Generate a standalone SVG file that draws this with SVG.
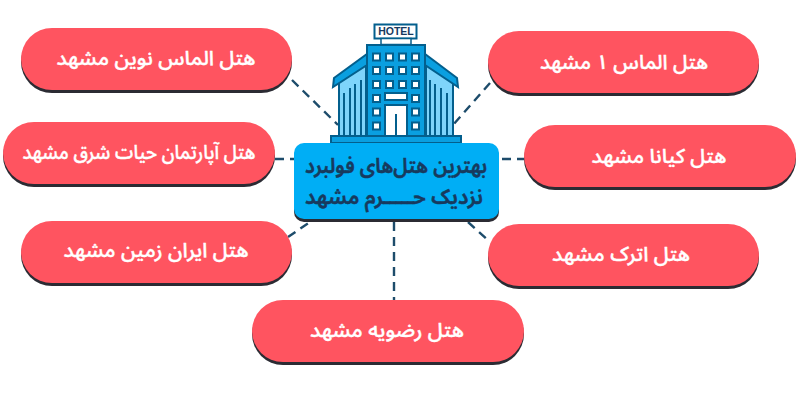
<svg xmlns="http://www.w3.org/2000/svg" width="800" height="400" viewBox="0 0 800 400">
<style>
.sh{fill:#2b2b33}
.p{fill:#ff5460}
.t{font-family:"Noto Sans Arabic","Noto Sans","DejaVu Sans",sans-serif;font-weight:500;fill:#fff;stroke:#fff;stroke-width:.4;text-anchor:middle;direction:rtl;font-size:20px}
.c{fill:none;stroke:#1d4c6b;stroke-width:2.4;stroke-dasharray:9 6}
.e{stroke:#035f8d;stroke-width:2;fill:#0a9fe0}
.l{stroke:#035f8d;stroke-width:2;fill:#7ed4fb}
.w{fill:#fff;stroke:#035f8d;stroke-width:2}
.m{font-family:"Noto Sans Arabic","Noto Sans","DejaVu Sans",sans-serif;font-weight:600;fill:#173a5e;stroke:#173a5e;stroke-width:.5;text-anchor:middle;direction:rtl;font-size:21px}
</style>
<rect width="800" height="400" fill="#fff"/>
<g id="connectors">
<path class="c" d="M292 80L338 125"/>
<path class="c" d="M490 83L453 125"/>
<path class="c" d="M275 159H294"/>
<path class="c" d="M502 159H524"/>
<path class="c" d="M288 237L310 222"/>
<path class="c" d="M468 222L490 242"/>
<path class="c" d="M394 222V300"/>
</g>
<g id="hotel-icon">
<rect x="374.500" y="24.500" width="42" height="14" fill="#fff" stroke="#035f8d" stroke-width="2"/>
<text x="396" y="35" font-family="Liberation Sans,sans-serif" font-weight="700" font-size="10.500" fill="#173a5e" text-anchor="middle">HOTEL</text>
<rect x="381" y="38.500" width="30" height="6" fill="#fff" stroke="#035f8d" stroke-width="1.500"/>
<path class="l" d="M339 82L366 60V137H339Z"/>
<path class="l" d="M453 82L426 60V137H453Z"/>
<path class="e" d="M333 87L334 78L367 54V65Z"/>
<path class="e" d="M458 87L457 78L425 54V65Z"/>
<path d="M344 136V93M350 136V88M355 136V84M361 136V80M430 136V80M435 136V84M441 136V88M447 136V93" stroke="#035f8d" stroke-width="2" fill="none"/>
<rect class="e" x="367" y="45" width="58" height="92"/>
<g class="w">
<rect x="373" y="53.500" width="7" height="7"/><rect x="386" y="53.500" width="7" height="7"/><rect x="399" y="53.500" width="7" height="7"/><rect x="412" y="53.500" width="7" height="7"/>
<rect x="373" y="67" width="7" height="7"/><rect x="386" y="67" width="7" height="7"/><rect x="399" y="67" width="7" height="7"/><rect x="412" y="67" width="7" height="7"/>
<rect x="373" y="81" width="7" height="7"/><rect x="386" y="81" width="7" height="7"/><rect x="399" y="81" width="7" height="7"/><rect x="412" y="81" width="7" height="7"/>
<rect x="373" y="95" width="7" height="7"/><rect x="412" y="95" width="7" height="7"/>
<rect x="373" y="108.500" width="7" height="7"/><rect x="412" y="108.500" width="7" height="7"/>
<rect x="373" y="122.500" width="7" height="7"/><rect x="412" y="122.500" width="7" height="7"/>
<rect x="385" y="93" width="22" height="7"/><rect x="385" y="105" width="22" height="32"/>
</g>
<path d="M396 114V136" stroke="#035f8d" stroke-width="2"/>
<rect class="e" x="331" y="136" width="130" height="7"/>
</g>
<g id="center">
<rect class="sh" x="294" y="146" width="205" height="76" rx="10"/>
<rect x="294" y="143" width="205" height="76" rx="10" fill="#00aef5"/>
<text class="m"><tspan x="396" y="173" textLength="182" lengthAdjust="spacingAndGlyphs">بهترین هتل‌های فولبرد</tspan><tspan x="394" y="204" textLength="178" lengthAdjust="spacingAndGlyphs">نزدیک حـــــرم مشهد</tspan></text>
</g>
<g id="n1"><rect class="sh" x="21" y="31" width="271" height="62" rx="31"/><rect class="p" x="21" y="28" width="271" height="62" rx="31"/><text class="t" x="156" y="65" textLength="199" lengthAdjust="spacingAndGlyphs">هتل الماس نوین مشهد</text></g>
<g id="n2"><rect class="sh" x="3" y="125" width="272" height="62" rx="31"/><rect class="p" x="3" y="122" width="272" height="62" rx="31"/><text class="t" x="139" y="159" textLength="233" lengthAdjust="spacingAndGlyphs">هتل آپارتمان حیات شرق مشهد</text></g>
<g id="n3"><rect class="sh" x="21" y="224" width="271" height="62" rx="31"/><rect class="p" x="21" y="221" width="271" height="62" rx="31"/><text class="t" x="156" y="257" textLength="185" lengthAdjust="spacingAndGlyphs">هتل ایران زمین مشهد</text></g>
<g id="n4"><rect class="sh" x="252" y="303" width="272" height="62" rx="31"/><rect class="p" x="252" y="300" width="272" height="62" rx="31"/><text class="t" x="387" y="337" textLength="154" lengthAdjust="spacingAndGlyphs">هتل رضویه مشهد</text></g>
<g id="n5"><rect class="sh" x="488" y="34" width="271" height="62" rx="31"/><rect class="p" x="488" y="31" width="271" height="62" rx="31"/><text class="t" x="624" y="69" textLength="168" lengthAdjust="spacingAndGlyphs">هتل الماس ۱ مشهد</text></g>
<g id="n6"><rect class="sh" x="524" y="128" width="272" height="62" rx="31"/><rect class="p" x="524" y="125" width="272" height="62" rx="31"/><text class="t" x="659" y="163" textLength="135" lengthAdjust="spacingAndGlyphs">هتل کیانا مشهد</text></g>
<g id="n7"><rect class="sh" x="488" y="227" width="271" height="62" rx="31"/><rect class="p" x="488" y="224" width="271" height="62" rx="31"/><text class="t" x="621" y="261" textLength="138" lengthAdjust="spacingAndGlyphs">هتل اترک مشهد</text></g>
</svg>
